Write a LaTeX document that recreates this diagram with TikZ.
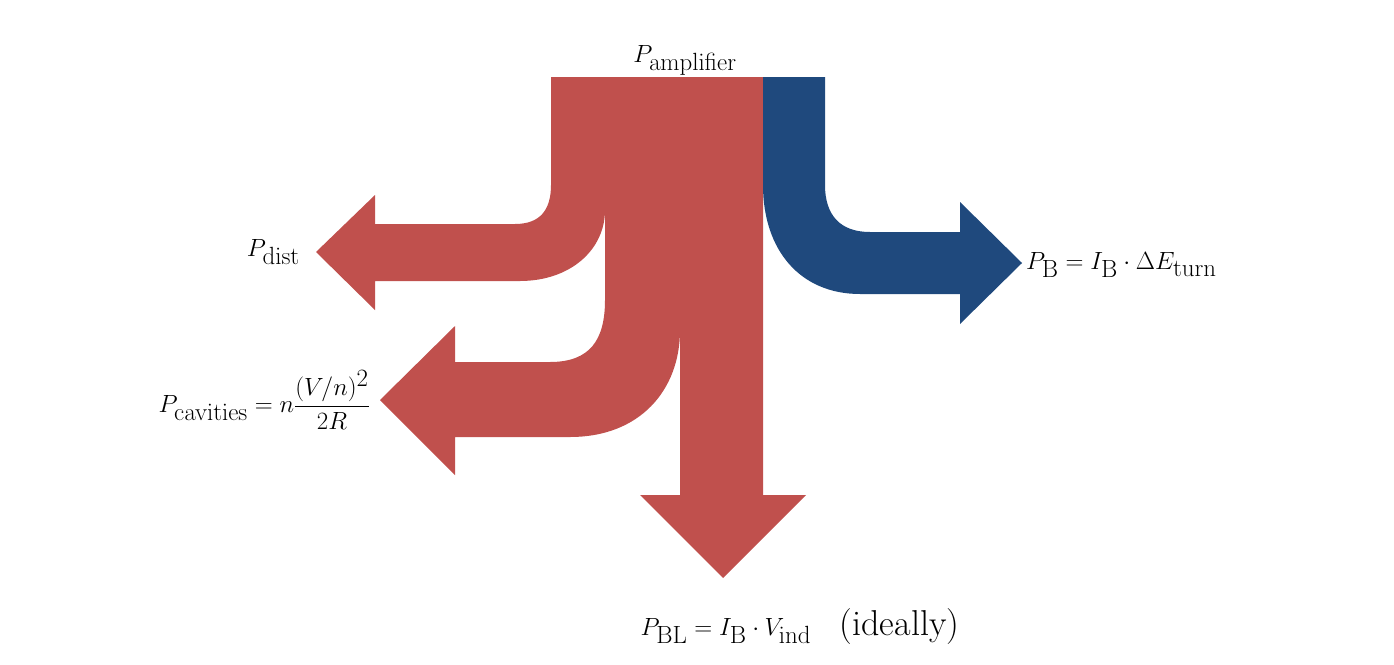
\documentclass[tikz,border=0pt]{standalone}
\usepackage{amsmath}
\definecolor{sred}{HTML}{C0504D}
\definecolor{sblue}{HTML}{1F497D}
\begin{document}
\begin{tikzpicture}[x=1pt,y=-1pt,
  lab/.style={inner sep=0pt,font=\fontsize{48}{58}\selectfont}]
\useasboundingbox (0,0) rectangle (1394,664);
% red trunk
\fill[sred] (551,77) rectangle (763,200);
\fill[sred] (551,77) -- (551,185) .. controls (551,210) and (540,224) .. (515,224) -- (375,224) -- (375,195) -- (316,252) -- (375,310) -- (375,281) -- (520,281) .. controls (570,281) and (605,250) .. (605,210) -- (605,77) -- cycle;
\fill[sred] (605,150) -- (605,300) .. controls (605,340) and (590,362) .. (550,362) -- (455,362) -- (455,326) -- (380,400) -- (455,475) -- (455,437) -- (570,437) .. controls (640,437) and (680,390) .. (680,330) -- (680,150) -- cycle;
\fill[sred] (680,77) -- (680,495) -- (640,495) -- (723,578) -- (806,495) -- (763,495) -- (763,77) -- cycle;
\fill[sblue] (763,77) -- (763,185) .. controls (763,250) and (800,294) .. (860,294) -- (960,294) -- (960,324) -- (1022,263) -- (960,202) -- (960,232) -- (870,232) .. controls (840,232) and (825,215) .. (825,185) -- (825,77) -- cycle;
\node[lab,font=\fontsize{72}{80}\selectfont,anchor=base] (amp) at (685,62) {$P_{\mathrm{amplifier}}$};
\node[lab,anchor=east] (dist) at (300,252) {$P_{\mathrm{dist}}$};
\node[lab,anchor=east] (cav) at (370,400) {$P_{\mathrm{cavities}}=n\dfrac{(V/n)^2}{2R}$};
\node[lab,anchor=west] (pb) at (1026,265) {$P_{\mathrm{B}}=I_{\mathrm{B}}\cdot\Delta E_{\mathrm{turn}}$};
\node[lab,anchor=base] (bl) at (800,635) {$P_{\mathrm{BL}}=I_{\mathrm{B}}\cdot V_{\mathrm{ind}}$\hspace{0.6em}{\fontsize{36}{40}\selectfont(ideally)}};
\end{tikzpicture}
\end{document}
